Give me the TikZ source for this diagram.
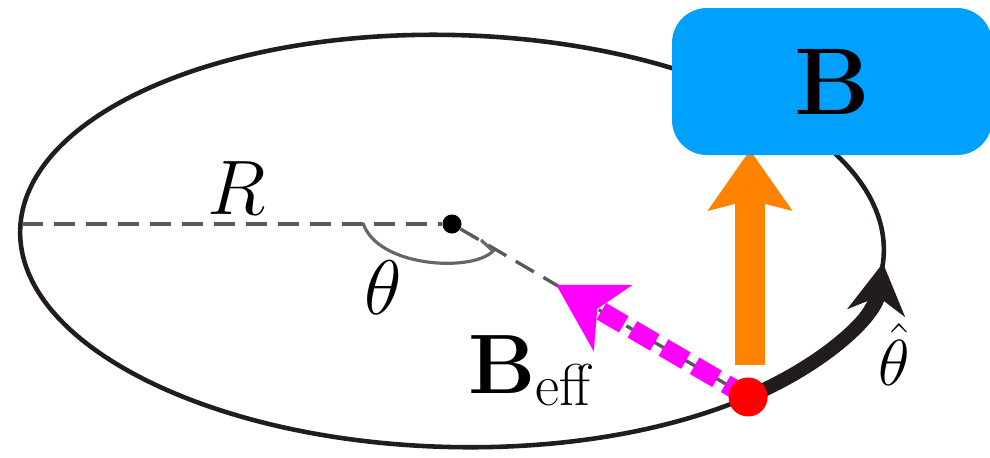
\RequirePackage{fix-cm}
\documentclass[tikz,border=0pt]{standalone}
\usepackage{amsmath}
\usepackage{tikz}
\usetikzlibrary{arrows.meta,calc}
\definecolor{boxblue}{RGB}{0,160,255}
\definecolor{fieldorange}{RGB}{255,130,0}
\definecolor{effmagenta}{RGB}{255,0,255}
\definecolor{ringdark}{RGB}{35,28,28}

\begin{document}
\begin{tikzpicture}[
  guide/.style={black!65, line width=1.9pt, dash pattern=on 0.42cm off 0.22cm},
  lbl/.style={font=\fontsize{44}{50}\selectfont, inner sep=0pt}]
  \useasboundingbox (0,0) rectangle (19.8,-9.14);
  \begin{scope}[shift={(9.04,-4.82)}, rotate=-1.5]
    \draw[ringdark, line width=2.6pt] (0,0) ellipse (8.64 and 4.12);
    \coordinate (P) at (-46:8.64 and 4.12);
    \draw[ringdark, line width=8pt, -{Stealth[length=1cm,width=1.15cm,inset=0.32cm]}] (P) arc[start angle=-46, end angle=-3, x radius=8.64, y radius=4.12];
  \end{scope}
  \coordinate (L) at (0.44,-4.48);
  \node[circle, fill=black, inner sep=0pt, minimum size=0.38cm] (O) at (9.04,-4.48) {};
  \draw[guide] (L) -- (O);
  \draw[guide] (O) -- (P);
  \draw[black!60, line width=1.8pt] (7.26,-4.46) .. controls (7.55,-5.35) and (9.45,-5.45) .. (9.86,-5.02) -- (9.62,-4.8);
  \node[lbl] (R) at (4.74,-3.76) {$R$};
  \node[lbl] (th) at (7.66,-5.76) {$\theta$};
  \node[lbl, font=\fontsize{48}{54}\selectfont, anchor=base west] (Be) at (9.36,-7.86) {$\mathbf{B}_{\mathrm{eff}}$};
  \node[lbl, font=\fontsize{37}{42}\selectfont] (thh) at (17.88,-7.08) {$\hat{\theta}$};
  \coordinate (Bt) at ($(O)!0.352!(P)$);
  \draw[effmagenta, line width=0.38cm, dash pattern=on 0.52cm off 0.2cm, -{Stealth[length=1.3cm,width=1.5cm,inset=0.35cm]}] (P) -- (Bt);
  \coordinate (Ob) at (15.0,-7.3);
  \coordinate (Ot) at (15.0,-3.0);
  \draw[fieldorange, line width=0.6cm, -{Stealth[length=1.2cm,width=1.65cm,inset=0.2cm]}] (Ob) -- (Ot);
  \node[circle, fill=red, inner sep=0pt, minimum size=0.78cm] (dot) at (P) {};
  \node[fill=boxblue, rounded corners=0.7cm, minimum width=6.4cm, minimum height=2.94cm, font=\fontsize{54}{60}\selectfont] (B) at (16.64,-1.63) {$\mathbf{B}$};
\end{tikzpicture}
\end{document}
